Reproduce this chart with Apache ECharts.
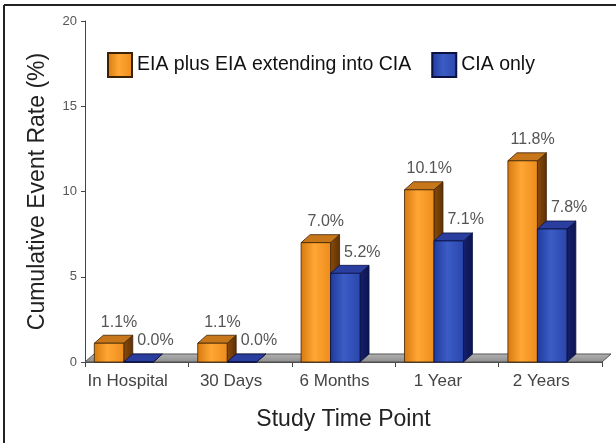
<!DOCTYPE html>
<html>
<head>
<meta charset="utf-8">
<script src="https://cdn.jsdelivr.net/npm/echarts@6/dist/echarts.min.js"></script>
<style>
  html, body { margin: 0; padding: 0; background: #fff; }
  #chart { width: 616px; height: 443px; }
</style>
</head>
<body>
<div id="chart"></div>
<script>
// Cumulative event rate by study time point, two lesion groups
const categories = ['In Hospital', '30 Days', '6 Months', '1 Year', '2 Years'];
const eiaValues = [1.1, 1.1, 7.0, 10.1, 11.8];
const ciaValues = [0.0, 0.0, 5.2, 7.1, 7.8];
const seriesNames = ['EIA plus EIA extending into CIA', 'CIA only'];

const FONT = '"Liberation Sans", Arial, sans-serif';
const G = echarts.graphic;

const palettes = {
  orange: {
    front: new G.LinearGradient(0, 0, 1, 0, [
      { offset: 0, color: '#d67810' },
      { offset: 0.45, color: '#ffa634' },
      { offset: 1, color: '#ec8c1c' }
    ]),
    side: new G.LinearGradient(0, 0, 1, 0, [
      { offset: 0, color: '#8c4c0c' },
      { offset: 1, color: '#5e3004' }
    ]),
    top: '#c8761a',
    edge: '#3c2204'
  },
  blue: {
    front: new G.LinearGradient(0, 0, 1, 0, [
      { offset: 0, color: '#1f3a9c' },
      { offset: 0.45, color: '#3c5cc4' },
      { offset: 1, color: '#2a46ac' }
    ]),
    side: new G.LinearGradient(0, 0, 1, 0, [
      { offset: 0, color: '#16206e' },
      { offset: 1, color: '#0c1450' }
    ]),
    top: '#2a3ea0',
    edge: '#0a1040'
  }
};

// Depth of the pseudo-3D extrusion, in pixels
const DEPTH_X = 9, DEPTH_Y = 8;

function barRenderer(slot, pal, labelDx) {
  return function (params, api) {
    const idx = api.value(0);
    const val = api.value(1);
    const base = api.coord([idx, 0]);
    const top = api.coord([idx, val]);
    const band = api.size([1, 0])[0];
    const w = band * 0.285;
    const x0 = base[0] - band * 0.41 + slot * w;
    const yb = base[1], yt = top[1];
    const dx = DEPTH_X, dy = DEPTH_Y;
    const lw = 0.8;
    return {
      type: 'group',
      children: [
        {
          type: 'polygon',
          shape: { points: [[x0 + w, yt], [x0 + w + dx, yt - dy], [x0 + w + dx, yb - dy], [x0 + w, yb]] },
          style: { fill: pal.side, stroke: pal.edge, lineWidth: lw }
        },
        {
          type: 'polygon',
          shape: { points: [[x0, yt], [x0 + dx, yt - dy], [x0 + w + dx, yt - dy], [x0 + w, yt]] },
          style: { fill: pal.top, stroke: pal.edge, lineWidth: lw }
        },
        {
          type: 'rect',
          shape: { x: x0, y: yt, width: w, height: yb - yt },
          style: { fill: pal.front, stroke: pal.edge, lineWidth: lw }
        },
        {
          type: 'text',
          x: x0 + w / 2 + labelDx,
          y: yt - 21,
          style: {
            text: val.toFixed(1) + '%',
            fill: '#555',
            font: '16px ' + FONT,
            align: 'center',
            verticalAlign: 'middle'
          }
        }
      ]
    };
  };
}

// Grey floor slab under the bars
function floorRenderer(params, api) {
  const cs = params.coordSys;
  const yb = api.coord([0, 0])[1];
  const x1 = cs.x, x2 = cs.x + cs.width;
  const dx = DEPTH_X, dy = DEPTH_Y;
  return {
    type: 'group',
    children: [
      {
        type: 'polygon',
        shape: { points: [[x1, yb], [x1 + dx, yb - dy], [x2 + dx, yb - dy], [x2, yb]] },
        style: {
          fill: new G.LinearGradient(0, 0, 0, 1, [
            { offset: 0, color: '#b4b4b4' },
            { offset: 1, color: '#8c8c8c' }
          ]),
          stroke: '#555', lineWidth: 1
        }
      }
    ]
  };
}

const chart = echarts.init(document.getElementById('chart'), null, { renderer: 'canvas' });

chart.setOption({
  backgroundColor: '#fff',
  animation: false,
  textStyle: { fontFamily: FONT },
  grid: { left: 85, right: 14, top: 21, bottom: 81, containLabel: false },
  legend: {
    data: seriesNames,
    left: 102,
    top: 47,
    itemWidth: 24,
    itemHeight: 24,
    itemGap: 20,
    icon: 'rect',
    textStyle: { fontSize: 19.5, color: '#111', fontFamily: FONT }
  },
  xAxis: {
    type: 'category',
    data: categories,
    boundaryGap: true,
    name: 'Study Time Point',
    nameLocation: 'middle',
    nameGap: 46,
    nameTextStyle: { fontSize: 23, color: '#222', fontFamily: FONT },
    axisLine: { show: true, lineStyle: { color: '#444', width: 1 } },
    axisTick: { show: true, length: 5, lineStyle: { color: '#444' } },
    axisLabel: {
      interval: 0,
      margin: 11,
      fontSize: 17,
      color: '#444',
      fontFamily: FONT,
      padding: [0, 18, 0, 0]
    },
    splitLine: { show: false }
  },
  yAxis: {
    type: 'value',
    min: 0,
    max: 20,
    interval: 5,
    name: 'Cumulative Event Rate (%)',
    nameLocation: 'middle',
    nameGap: 36,
    nameTextStyle: { fontSize: 23, color: '#222', fontFamily: FONT },
    axisLine: { show: true, lineStyle: { color: '#444', width: 1 } },
    axisTick: { show: true, length: 4, lineStyle: { color: '#444' } },
    axisLabel: { margin: 8, fontSize: 13, color: '#555', fontFamily: FONT },
    splitLine: { show: false }
  },
  graphic: [
    { type: 'line', shape: { x1: 4, y1: 5, x2: 616, y2: 5 }, style: { stroke: '#222', lineWidth: 2 }, z: 100 },
    { type: 'line', shape: { x1: 4, y1: 5, x2: 4, y2: 443 }, style: { stroke: '#222', lineWidth: 2 }, z: 100 }
  ],
  series: [
    {
      type: 'custom',
      name: 'floor',
      renderItem: floorRenderer,
      data: [[0, 0]],
      clip: false,
      silent: true,
      z: 1
    },
    {
      type: 'custom',
      name: seriesNames[0],
      renderItem: barRenderer(0, palettes.orange, 10),
      data: eiaValues.map((v, i) => [i, v]),
      itemStyle: { color: palettes.orange.front, borderColor: palettes.orange.edge, borderWidth: 1 },
      clip: false,
      z: 2
    },
    {
      type: 'custom',
      name: seriesNames[1],
      renderItem: barRenderer(1, palettes.blue, 17),
      data: ciaValues.map((v, i) => [i, v]),
      itemStyle: { color: palettes.blue.front, borderColor: palettes.blue.edge, borderWidth: 1 },
      clip: false,
      z: 3
    }
  ]
});
</script>
</body>
</html>
